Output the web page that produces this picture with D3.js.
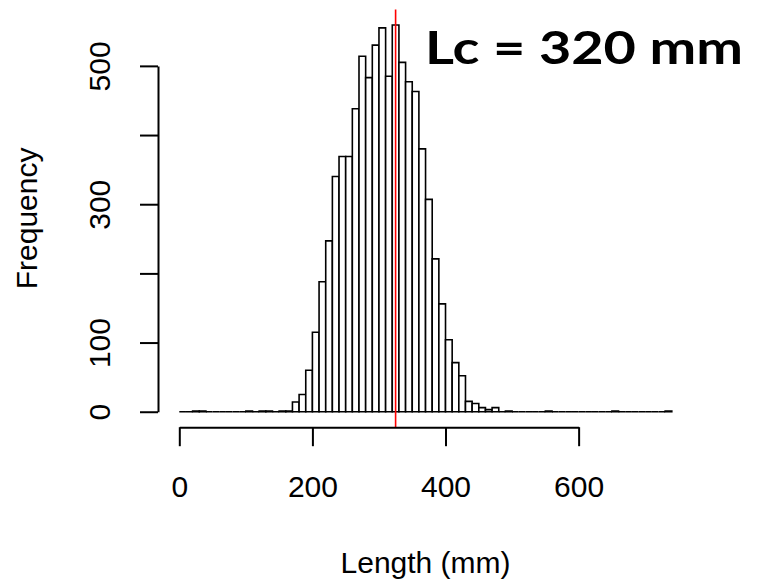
<!DOCTYPE html>
<html>
<head>
<meta charset="utf-8">
<script src="https://cdn.jsdelivr.net/npm/d3@7"></script>
<style>
  html, body { margin: 0; padding: 0; background: #fff; }
  svg { display: block; }
</style>
</head>
<body>
<script>
// ---- data ----
const binStarts = d3.range(0, 740, 10); // 10 mm bins from 0 to 740
const counts = [
  0, 0, 1, 1, 0, 0, 0, 0, 0, 0,          // 0-90
  1, 0, 1, 1, 0, 1, 1, 14, 25, 60,       // 100-190
  115, 188, 247, 340, 369, 369, 438, 514, 483, 530, // 200-290
  555, 485, 559, 505, 477, 463, 380, 307, 221, 156, // 300-390
  104, 71, 52, 15, 12, 6, 3, 6, 0, 1,    // 400-490
  0, 0, 0, 0, 0, 1, 0, 0, 0, 0,          // 500-590
  0, 0, 0, 0, 0, 1, 0, 0, 0, 0,          // 600-690
  0, 0, 0, 1                             // 700-730
];
const binWidth = 10;
const lcValue = 325;
const xTicks = [0, 200, 400, 600];
const yTicks = [0, 100, 200, 300, 400, 500];
const yTickLabels = [0, 100, 300, 500];
const titleText = "Lc = 320 mm";
const xLabel = "Length (mm)";
const yLabel = "Frequency";

// ---- layout ----
const W = 757, H = 582;
const svg = d3.select("body").append("svg").attr("width", W).attr("height", H);

const xMin = 0, xMax = 740;
const xPad = (xMax - xMin) * 0.04;
const yMaxData = d3.max(counts);
const yPad = yMaxData * 0.04;

const x = d3.scaleLinear().domain([xMin - xPad, xMax + xPad]).range([159.6, 691.5]);
const y = d3.scaleLinear().domain([-yPad, yMaxData + yPad]).range([427.2, 9.6]);

const font = "'Liberation Sans', Arial, sans-serif";

// bars (paths so that empty bins still show as a base line)
svg.append("g").selectAll("path")
  .data(binStarts.map((b, i) => ({b, c: counts[i]})))
  .join("path")
  .attr("d", d => {
    const x0 = x(d.b), x1 = x(d.b + binWidth), y0 = y(0), y1 = y(d.c);
    return `M${x0},${y0}V${y1}H${x1}V${y0}Z`;
  })
  .attr("fill", "#fff")
  .attr("stroke", "#000")
  .attr("stroke-width", 1.6);

// red line
svg.append("line")
  .attr("x1", x(lcValue)).attr("x2", x(lcValue))
  .attr("y1", y.range()[1]).attr("y2", y.range()[0])
  .attr("stroke", "#ff0000").attr("stroke-width", 1.6);

// x axis
const xAxisScale = d3.scaleLinear().domain([0, 600]).range([x(0), x(600)]);
const gx = svg.append("g")
  .attr("transform", `translate(0,${y.range()[0]})`)
  .call(d3.axisBottom(xAxisScale).tickValues(xTicks).tickSize(19).tickSizeOuter(0).tickFormat(d3.format("d")));
gx.selectAll("path, line").attr("stroke", "#000").attr("stroke-width", 2);
gx.selectAll("text")
  .attr("y", 70).attr("dy", null)
  .attr("font-family", font).attr("font-size", 30).attr("fill", "#000");

// y axis
const yAxisScale = d3.scaleLinear().domain([0, 500]).range([y(0), y(500)]);
const gy = svg.append("g")
  .attr("transform", `translate(158,0)`)
  .call(d3.axisLeft(yAxisScale).tickValues(yTicks).tickSize(18).tickSizeOuter(0)
    .tickFormat(d => yTickLabels.includes(d) ? String(d) : ""));
gy.selectAll("path, line").attr("stroke", "#000").attr("stroke-width", 2);
gy.selectAll("text")
  .attr("x", null).attr("dy", null)
  .attr("text-anchor", "middle")
  .attr("transform", "translate(-48,0) rotate(-90)")
  .attr("font-family", font).attr("font-size", 30).attr("fill", "#000");
gy.select(".domain").attr("fill", "none");
gx.select(".domain").attr("fill", "none");

// axis titles
const cx = (x.range()[0] + x.range()[1]) / 2;
const cy = (y.range()[0] + y.range()[1]) / 2;
svg.append("text")
  .attr("x", cx).attr("y", 573)
  .attr("text-anchor", "middle")
  .attr("font-family", font).attr("font-size", 30).attr("fill", "#000")
  .text(xLabel);
svg.append("text")
  .attr("transform", `translate(37,${cy}) rotate(-90)`)
  .attr("text-anchor", "middle")
  .attr("font-family", font).attr("font-size", 30).attr("fill", "#000")
  .text(yLabel);

// title annotation
svg.append("text")
  .attr("x", 425).attr("y", 64)
  .attr("font-family", "Lato, 'Open Sans', sans-serif")
  .attr("font-weight", "bold")
  .attr("font-size", 46)
  .attr("textLength", 318)
  .attr("lengthAdjust", "spacingAndGlyphs")
  .attr("fill", "#000")
  .text(titleText);
</script>
</body>
</html>
